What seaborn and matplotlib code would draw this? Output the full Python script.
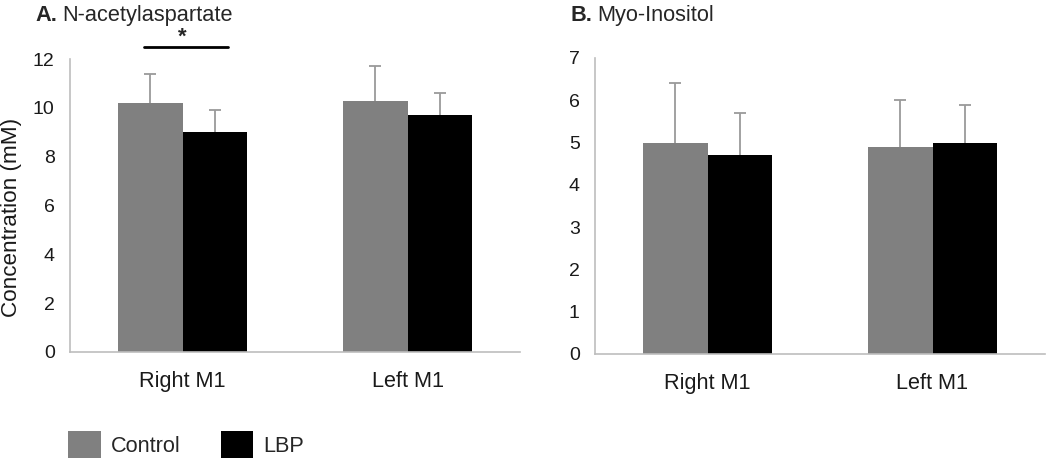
import matplotlib
matplotlib.use("Agg")
import matplotlib.pyplot as plt
import seaborn as sns
import pandas as pd
import numpy as np
from matplotlib.patches import Patch

regions = ["Right M1", "Left M1"]
groups = ["Control", "LBP"]
naa_control = [10.2, 10.3]
naa_lbp = [9.0, 9.7]
naa_control_sd = [1.2, 1.4]
naa_lbp_sd = [0.9, 0.9]
mi_control = [5.0, 4.9]
mi_lbp = [4.7, 5.0]
mi_control_sd = [1.4, 1.1]
mi_lbp_sd = [1.0, 0.9]
naa_ticks = [0, 2, 4, 6, 8, 10, 12]
mi_ticks = [0, 1, 2, 3, 4, 5, 6, 7]

colors = {"Control": "#808080", "LBP": "#000000"}
err_color = "#9a9a9a"
spine_color = "#bdbdbd"
text_color = "#1a1a1a"

sns.set_theme(style="white")
plt.rcParams["font.family"] = ["Liberation Sans", "DejaVu Sans"]

W, H = 1050, 463
fig = plt.figure(figsize=(W / 100, H / 100), dpi=100)
axA = fig.add_axes([70 / W, 1 - 352 / H, 450 / W, (352 - 59) / H])
axB = fig.add_axes([595 / W, 1 - 354 / H, 450 / W, (354 - 58) / H])


def make_df(c, l, csd, lsd):
    rows = []
    for i, r in enumerate(regions):
        rows.append({"region": r, "group": "Control", "value": c[i], "sd": csd[i]})
        rows.append({"region": r, "group": "LBP", "value": l[i], "sd": lsd[i]})
    return pd.DataFrame(rows)


def draw(ax, df, ticks):
    sns.barplot(data=df, x="region", y="value", hue="group", order=regions,
                hue_order=groups, palette=colors, width=0.57, errorbar=None,
                legend=False, ax=ax, saturation=1, linewidth=0, zorder=2)
    for gi, g in enumerate(groups):
        sub = df[df["group"] == g].set_index("region").loc[regions]
        bars = ax.containers[gi]
        xs = [b.get_x() + b.get_width() / 2 for b in bars]
        ax.errorbar(xs, sub["value"].values, yerr=sub["sd"].values,
                    fmt="none", ecolor=err_color, elinewidth=1.3,
                    capsize=4, capthick=1.3, zorder=1)
    ax.set_xlim(-0.5, 1.5)
    ax.set_ylim(ticks[0], ticks[-1])
    ax.set_yticks(ticks)
    ax.set_yticklabels([str(t) for t in ticks], fontsize=14)
    ax.set_xticks([0, 1])
    ax.set_xticklabels(regions, fontsize=15.6)
    ax.set_xticks([-0.5, 0.5, 1.5], minor=True)
    ax.tick_params(axis="x", which="major", length=0, pad=14, colors=text_color)
    ax.tick_params(axis="x", which="minor", length=5, width=1, color=spine_color, direction="out")
    ax.tick_params(axis="y", length=5, width=1, direction="out", colors=text_color, pad=6)
    ax.tick_params(axis="y", color=spine_color)
    for s in ["top", "right"]:
        ax.spines[s].set_visible(False)
    for s in ["left", "bottom"]:
        ax.spines[s].set_color(spine_color)
        ax.spines[s].set_linewidth(1.2)
    ax.set_xlabel("")
    ax.set_ylabel("")


dfA = make_df(naa_control, naa_lbp, naa_control_sd, naa_lbp_sd)
dfB = make_df(mi_control, mi_lbp, mi_control_sd, mi_lbp_sd)
draw(axA, dfA, naa_ticks)
draw(axB, dfB, mi_ticks)

# y label
fig.text(12 / W, 1 - 217 / H, "Concentration (mM)", rotation=90, fontsize=16.2,
         color=text_color, ha="center", va="center")

# significance line
axA.plot([-0.17, 0.2], [12.5, 12.5], color="black", lw=2, clip_on=False)
axA.text(0.0, 13.33, "*", ha="center", va="top", fontsize=16, fontweight="bold",
         transform=axA.transData, clip_on=False)

# titles
ty = 1 - 15.5 / H
fig.text(35 / W, ty, "A.", fontsize=15.7, fontweight="bold", va="center", ha="left")
fig.text(62 / W, ty, "N-acetylaspartate", fontsize=15.7, va="center", ha="left")
fig.text(570 / W, ty, "B.", fontsize=15.7, fontweight="bold", va="center", ha="left")
fig.text(597 / W, ty, "Myo-Inositol", fontsize=15.7, va="center", ha="left")

# legend
handles = [Patch(facecolor=colors[g], edgecolor="none", label=g) for g in groups]
fig.legend(handles=handles, loc="lower left", bbox_to_anchor=(68 / W, 5 / H), ncol=2,
           frameon=False, fontsize=15.6, handlelength=1.5, handleheight=1.55,
           columnspacing=1.86, handletextpad=0.47, borderpad=0, borderaxespad=0)

fig.savefig("out.png", dpi=100)
